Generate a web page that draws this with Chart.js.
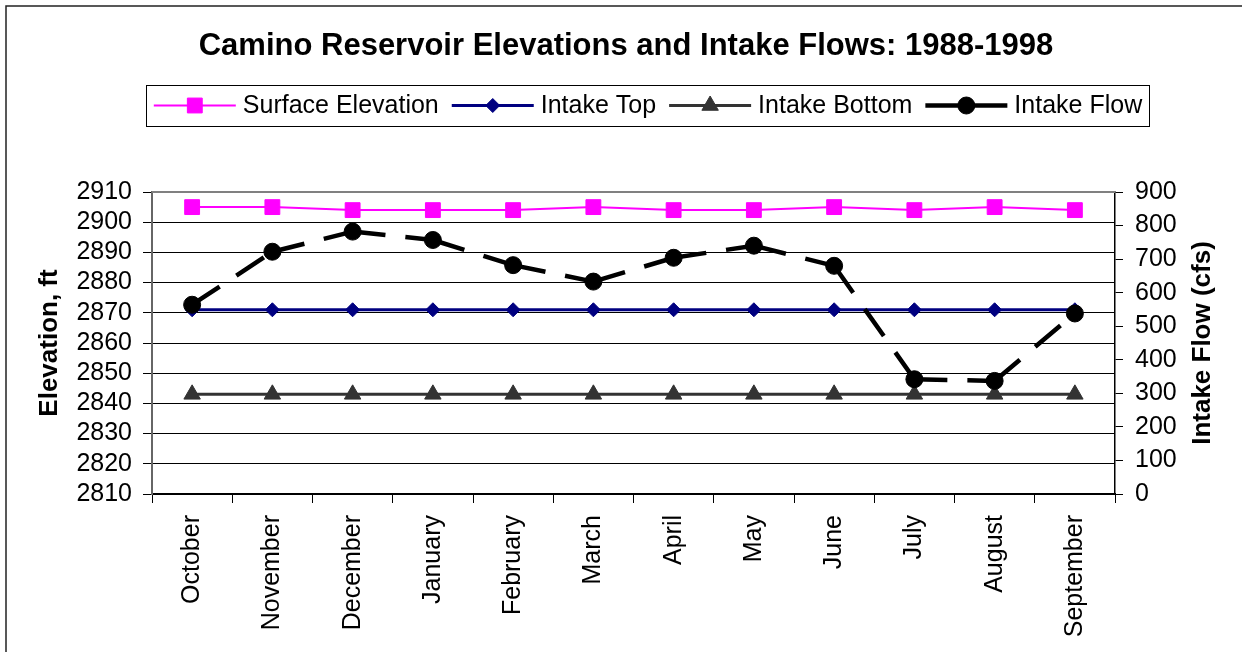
<!DOCTYPE html>
<html>
<head>
<meta charset="utf-8">
<title>Camino Reservoir Elevations and Intake Flows: 1988-1998</title>
<script src="https://cdn.jsdelivr.net/npm/chart.js@4.4.1/dist/chart.umd.min.js"></script>
<style>
  html, body { margin: 0; padding: 0; background: #fff; }
  canvas { display: block; }
</style>
</head>
<body>
<canvas id="chart" width="1242" height="652"></canvas>
<script>
'use strict';

// ── Data ──────────────────────────────────────────────────────────────────────
const MONTHS = ['October','November','December','January','February','March',
                'April','May','June','July','August','September'];

const SURFACE_ELEV  = [2905, 2905, 2904, 2904, 2904, 2905, 2904, 2904, 2905, 2904, 2905, 2904];
const INTAKE_TOP    = [2871, 2871, 2871, 2871, 2871, 2871, 2871, 2871, 2871, 2871, 2871, 2871];
const INTAKE_BOTTOM = [2843, 2843, 2843, 2843, 2843, 2843, 2843, 2843, 2843, 2843, 2843, 2843];
const INTAKE_FLOW   = [564, 722, 782, 757, 682, 633, 704, 740, 680, 342, 337, 538];

const ELEV_RANGE = [2810, 2910];   // ft, step 10
const FLOW_RANGE = [0, 900];       // cfs, step 100

const FONT = '"Liberation Sans", Arial, Helvetica, sans-serif';

// ── Plugins ───────────────────────────────────────────────────────────────────
// outer frame, plot top border, boxed legend with line+marker swatches, right title
const decorations = {
  id: 'decorations',
  beforeDraw(chart) {
    const ctx = chart.ctx;
    ctx.save();
    ctx.strokeStyle = '#222';
    ctx.lineWidth   = 1.5;
    ctx.beginPath();
    ctx.moveTo(6, chart.height);
    ctx.lineTo(6, 6);
    ctx.lineTo(chart.width, 6);
    ctx.stroke();
    ctx.restore();
  },
  beforeDatasetsDraw(chart) {
    const { ctx, chartArea: a } = chart;
    ctx.save();
    ctx.strokeStyle = '#808080';
    ctx.lineWidth   = 2;
    ctx.beginPath();
    ctx.moveTo(a.left, a.top);
    ctx.lineTo(a.right, a.top);
    ctx.stroke();
    ctx.restore();
  },
  afterDraw(chart) {
    const ctx = chart.ctx;
    ctx.save();

    // legend
    ctx.font = '25px ' + FONT;
    const LINE = 82, AFTER_LINE = 7, BETWEEN = 13;
    const items = chart.data.datasets.map(ds => ({
      ds, w: LINE + AFTER_LINE + ctx.measureText(ds.label).width
    }));
    const total = items.reduce((s, it) => s + it.w, 0) + BETWEEN * (items.length - 1);
    const cx = 648, cy = 105.5;
    let x = cx - total / 2;
    ctx.strokeStyle = '#000';
    ctx.lineWidth   = 1;
    ctx.strokeRect(Math.round(x - 8) + 0.5, 85.5, Math.round(total + 15), 41);

    items.forEach(({ ds, w }) => {
      ctx.strokeStyle = ds.borderColor;
      ctx.lineWidth   = ds.borderWidth;
      ctx.setLineDash([]);
      ctx.beginPath();
      ctx.moveTo(x, cy);
      ctx.lineTo(x + LINE, cy);
      ctx.stroke();
      ctx.fillStyle   = ds.pointBackgroundColor;
      ctx.strokeStyle = ds.pointBorderColor;
      ctx.lineWidth   = 1;
      Chart.helpers.drawPoint(ctx, {
        pointStyle: ds.pointStyle, radius: ds.pointRadius, rotation: 0, borderWidth: 1
      }, x + LINE / 2, cy);
      ctx.fillStyle    = '#000';
      ctx.textAlign    = 'left';
      ctx.textBaseline = 'middle';
      ctx.fillText(ds.label, x + LINE + AFTER_LINE, cy + 1);
      x += w + BETWEEN;
    });

    // right axis title, reading bottom to top
    const a = chart.chartArea;
    ctx.translate(1203, (a.top + a.bottom) / 2);
    ctx.rotate(-Math.PI / 2);
    ctx.font         = 'bold 26px ' + FONT;
    ctx.fillStyle    = '#000';
    ctx.textAlign    = 'center';
    ctx.textBaseline = 'middle';
    ctx.fillText('Intake Flow (cfs)', 0, 0);
    ctx.restore();
  }
};

// ── Chart ─────────────────────────────────────────────────────────────────────
Chart.defaults.font.family = FONT;
Chart.defaults.color       = '#000';

new Chart(document.getElementById('chart'), {
  type: 'line',
  data: {
    labels: MONTHS,
    datasets: [
      {
        label: 'Surface Elevation',
        data: SURFACE_ELEV,
        yAxisID: 'y',
        order: 4,
        borderColor: '#ff00ff',
        borderWidth: 2,
        pointStyle: 'rect',
        pointRadius: 10.5,
        pointBackgroundColor: '#ff00ff',
        pointBorderColor: '#ff00ff',
        pointBorderWidth: 1,
      },
      {
        label: 'Intake Top',
        data: INTAKE_TOP,
        yAxisID: 'y',
        order: 3,
        borderColor: '#000080',
        borderWidth: 3,
        pointStyle: 'rectRot',
        pointRadius: 7,
        pointBackgroundColor: '#000080',
        pointBorderColor: '#000080',
        pointBorderWidth: 1,
      },
      {
        label: 'Intake Bottom',
        data: INTAKE_BOTTOM,
        yAxisID: 'y',
        order: 2,
        borderColor: '#333333',
        borderWidth: 3,
        pointStyle: 'triangle',
        pointRadius: 9.5,
        pointBackgroundColor: '#333333',
        pointBorderColor: '#333333',
        pointBorderWidth: 1,
      },
      {
        label: 'Intake Flow',
        data: INTAKE_FLOW,
        yAxisID: 'y1',
        order: 1,
        borderColor: '#000',
        borderWidth: 4.5,
        borderDash: [33, 20],
        // restart the dash at every point, like the original
        segment: { borderDashOffset: ctx => (ctx.p0DataIndex % 2) * 0.01 },
        pointStyle: 'circle',
        pointRadius: 8.5,
        pointBackgroundColor: '#000',
        pointBorderColor: '#000',
        pointBorderWidth: 1,
      }
    ]
  },
  options: {
    responsive: false,
    animation: false,
    devicePixelRatio: 1,
    layout: { padding: { left: 10, right: 0, top: 0, bottom: 0 } },
    plugins: {
      legend:  { display: false },
      tooltip: { enabled: false },
      title: {
        display: true,
        text: 'Camino Reservoir Elevations and Intake Flows: 1988-1998',
        color: '#000',
        font: { size: 31, weight: 'bold' },
        padding: { top: 27.4, bottom: 127.4 }
      }
    },
    scales: {
      x: {
        offset: true,
        grid:   { offset: true, drawOnChartArea: false, drawTicks: true, tickLength: 9, tickColor: '#000' },
        border: { display: true, color: '#000', width: 2 },
        ticks:  { autoSkip: false, minRotation: 90, maxRotation: 90, padding: 12, font: { size: 25 } },
        afterFit: s => { s.height = 158; }
      },
      y: {
        position: 'left',
        min: ELEV_RANGE[0],
        max: ELEV_RANGE[1],
        grid:   { color: '#000', lineWidth: 1, tickLength: 9, tickColor: '#000' },
        border: { display: true, color: '#666', width: 2 },
        ticks:  {
          stepSize: 10, autoSkip: false, padding: 11, font: { size: 25 },
          callback: v => String(v)
        },
        title:  {
          display: true, text: 'Elevation, ft', color: '#000',
          font: { size: 26, weight: 'bold' }, padding: { top: 24, bottom: 0 }
        },
        afterFit: s => { s.width = 142; }
      },
      y1: {
        position: 'right',
        min: FLOW_RANGE[0],
        max: FLOW_RANGE[1],
        grid:   { drawOnChartArea: false, tickLength: 8, tickColor: '#000' },
        border: { display: true, color: '#000', width: 1.5 },
        ticks:  {
          stepSize: 100, autoSkip: false, padding: 12, font: { size: 25 },
          callback: v => String(v)
        },
        afterFit: s => { s.width = 127; }
      }
    }
  },
  plugins: [decorations]
});
</script>
</body>
</html>
